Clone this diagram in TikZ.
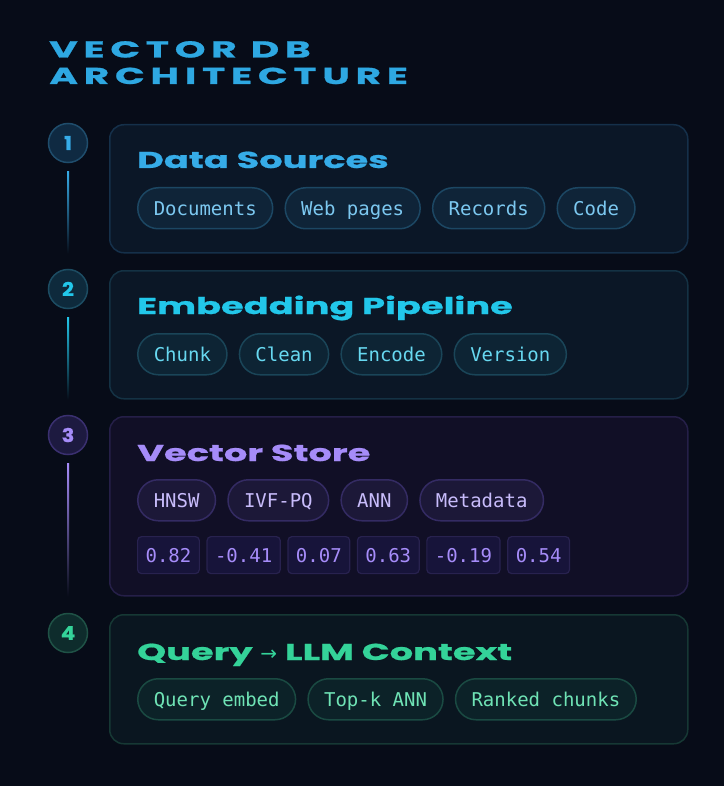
\documentclass[tikz,border=0pt]{standalone}
\usepackage{fontspec}
\usepackage{xcolor}
\usepackage{tikz}
\usetikzlibrary{positioning}

\setmonofont{DejaVu Sans Mono}
\newfontfamily\headfont[FakeStretch=1.6,FakeBold=0.8]{Poppins}
\newfontfamily\bigtitlefont[FakeStretch=1.7,FakeBold=1,LetterSpace=25]{Poppins}
\newfontfamily\numfont[FakeStretch=1.1,FakeBold=1]{Poppins}
\newfontfamily\symfont{DejaVu Sans}

\definecolor{bgdark}{HTML}{070C18}
\definecolor{titleblue}{HTML}{2EA8E2}
% step 1
\definecolor{skyAcc}{HTML}{36ACE8}
\definecolor{skyChipTxt}{HTML}{7CC8F0}
\definecolor{skyChipFill}{HTML}{0F2438}
\definecolor{skyChipLine}{HTML}{1C4763}
\definecolor{skyCardFill}{HTML}{0B1727}
\definecolor{skyCardLine}{HTML}{15304A}
\definecolor{skyNumFill}{HTML}{0F2A42}
\definecolor{skyNumLine}{HTML}{1F4D6C}
% step 2
\definecolor{cyanAcc}{HTML}{22C7EA}
\definecolor{cyanChipTxt}{HTML}{67D8F0}
\definecolor{cyanChipFill}{HTML}{0D2434}
\definecolor{cyanChipLine}{HTML}{1A4558}
\definecolor{cyanCardFill}{HTML}{0B1726}
\definecolor{cyanCardLine}{HTML}{143244}
\definecolor{cyanNumFill}{HTML}{0E2A3C}
\definecolor{cyanNumLine}{HTML}{1C4C62}
% step 3
\definecolor{violetAcc}{HTML}{A68CF9}
\definecolor{violetChipTxt}{HTML}{C8BCFB}
\definecolor{violetChipFill}{HTML}{1C1838}
\definecolor{violetChipLine}{HTML}{342B63}
\definecolor{violetCardFill}{HTML}{110F26}
\definecolor{violetCardLine}{HTML}{251F48}
\definecolor{violetNumFill}{HTML}{1D1A40}
\definecolor{violetNumLine}{HTML}{3A3070}
\definecolor{violetValFill}{HTML}{17143A}
\definecolor{violetValLine}{HTML}{28224F}
% step 4
\definecolor{mintAcc}{HTML}{34D399}
\definecolor{mintChipTxt}{HTML}{6FE3B5}
\definecolor{mintChipFill}{HTML}{0C2228}
\definecolor{mintChipLine}{HTML}{1A4A42}
\definecolor{mintCardFill}{HTML}{0A1620}
\definecolor{mintCardLine}{HTML}{163834}
\definecolor{mintNumFill}{HTML}{0E2C2C}
\definecolor{mintNumLine}{HTML}{1F5246}

\begin{document}
\begin{tikzpicture}[
    x=1pt,
    y=-1pt,
    card/.style={
        rectangle,
        rounded corners=14pt,
        line width=1.5pt,
        draw=#1CardLine,
        fill=#1CardFill,
        minimum width=578pt,
        inner sep=0pt,
        anchor=north west
    },
    stepnum/.style={
        circle,
        minimum size=39pt,
        inner sep=0pt,
        line width=1.5pt,
        draw=#1NumLine,
        fill=#1NumFill,
        text=#1Acc,
        font=\numfont\bfseries\fontsize{19}{19}\selectfont
    },
    steptitle/.style={
        inner sep=0pt,
        anchor=base west,
        text=#1Acc,
        font=\headfont\bfseries\fontsize{23}{26}\selectfont
    },
    chip/.style={
        rectangle,
        rounded corners=20.5pt,
        minimum height=41pt,
        inner xsep=16pt,
        inner ysep=0pt,
        text height=13.9pt,
        text depth=0pt,
        line width=1.5pt,
        draw=#1ChipLine,
        fill=#1ChipFill,
        text=#1ChipTxt,
        font=\ttfamily\fontsize{19}{19}\selectfont
    },
    valbox/.style={
        rectangle,
        rounded corners=4pt,
        minimum height=37pt,
        inner xsep=8pt,
        inner ysep=0pt,
        text height=13.9pt,
        text depth=0pt,
        line width=1.2pt,
        draw=violetValLine,
        fill=violetValFill,
        text=violetAcc,
        font=\ttfamily\fontsize{19}{19}\selectfont
    }
]

% Fundal
\useasboundingbox (0,0) rectangle (724,786);
\fill[bgdark] (0,0) rectangle (724,786);

% Titlul
\node[inner sep=0pt, anchor=base west, text=titleblue, font=\bigtitlefont\bfseries\fontsize{23}{26}\selectfont] (heading1) at (49,57.5) {VECTOR DB};
\node[inner sep=0pt, anchor=base west, text=titleblue, font=\bigtitlefont\bfseries\fontsize{23}{26}\selectfont] (heading2) at (49,84) {ARCHITECTURE};

% Cardurile
\node[card=sky, minimum height=128pt] (card1) at (109,124) {};
\node[card=cyan, minimum height=128pt] (card2) at (109,270) {};
\node[card=violet, minimum height=179pt] (card3) at (109,416) {};
\node[card=mint, minimum height=129pt] (card4) at (109,614) {};

% Numerele pasilor
\node[stepnum=sky] (num1) at (68,143) {1};
\node[stepnum=cyan] (num2) at (68,289) {2};
\node[stepnum=violet] (num3) at (68,435) {3};
\node[stepnum=mint] (num4) at (68,633) {4};

% Liniile de legatura
\shade[top color=skyAcc, bottom color=bgdark] ([xshift=-1pt,yshift=-8pt]num1.south) rectangle ([xshift=1pt]num1.south |- card1.south);
\shade[top color=cyanAcc, bottom color=bgdark] ([xshift=-1pt,yshift=-8pt]num2.south) rectangle ([xshift=1pt]num2.south |- card2.south);
\shade[top color=violetAcc, bottom color=bgdark] ([xshift=-1pt,yshift=-8pt]num3.south) rectangle ([xshift=1pt]num3.south |- card3.south);

% Pasul 1
\node[steptitle=sky] (title1) at (137,168) {Data Sources};
\node[chip=sky, anchor=north west] (docs) at (137,187) {Documents};
\node[chip=sky, right=11pt of docs] (web) {Web pages};
\node[chip=sky, right=11pt of web] (records) {Records};
\node[chip=sky, right=11pt of records] (code) {Code};

% Pasul 2
\node[steptitle=cyan] (title2) at (137,314) {Embedding Pipeline};
\node[chip=cyan, anchor=north west] (chunk) at (137,333) {Chunk};
\node[chip=cyan, right=11pt of chunk] (clean) {Clean};
\node[chip=cyan, right=11pt of clean] (encode) {Encode};
\node[chip=cyan, right=11pt of encode] (version) {Version};

% Pasul 3
\node[steptitle=violet] (title3) at (137,461) {Vector Store};
\node[chip=violet, anchor=north west] (hnsw) at (137,479) {HNSW};
\node[chip=violet, right=11pt of hnsw] (ivfpq) {IVF-PQ};
\node[chip=violet, right=11pt of ivfpq] (ann) {ANN};
\node[chip=violet, right=11pt of ann] (meta) {Metadata};
\node[valbox, anchor=north west] (val1) at (137,536) {0.82};
\node[valbox, right=6.5pt of val1] (val2) {-0.41};
\node[valbox, right=6.5pt of val2] (val3) {0.07};
\node[valbox, right=6.5pt of val3] (val4) {0.63};
\node[valbox, right=6.5pt of val4] (val5) {-0.19};
\node[valbox, right=6.5pt of val5] (val6) {0.54};

% Pasul 4
\node[steptitle=mint] (title4) at (137,660) {Query {\symfont\mdseries\fontsize{20}{20}\selectfont →} LLM Context};
\node[chip=mint, anchor=north west] (qembed) at (137,678) {Query embed};
\node[chip=mint, right=11pt of qembed] (topk) {Top-k ANN};
\node[chip=mint, right=11pt of topk] (ranked) {Ranked chunks};

\end{tikzpicture}
\end{document}
